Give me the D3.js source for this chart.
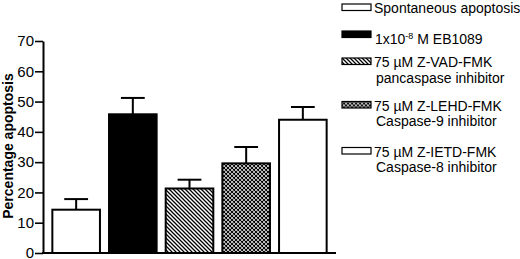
<!DOCTYPE html>
<html>
<head>
<meta charset="utf-8">
<script src="https://cdn.jsdelivr.net/npm/d3@7"></script>
<style>
  body { margin: 0; background: #fff; }
  text { font-family: "Liberation Sans", Arial, sans-serif; }
</style>
</head>
<body>
<div id="chart"></div>
<script>
let width = 520,
    height = 259;

// data
let groups = ["spont", "eb1089", "zvad", "zlehd", "zietd"];
let values = [14.3, 45.8, 21.3, 29.6, 44.0];
let errors = [3.5, 5.4, 2.9, 5.4, 4.2];
let fills = ["white", "black", "url(#diag)", "url(#cross)", "white"];
let legendLines = [
  ["Spontaneous apoptosis"],
  ["1x10", "-8", " M EB1089"],
  ["75 \u00b5M Z-VAD-FMK", "pancaspase inhibitor"],
  ["75 \u00b5M Z-LEHD-FMK", "Caspase-9 inhibitor"],
  ["75 \u00b5M Z-IETD-FMK", "Caspase-8 inhibitor"]
];
let yTicks = [0, 10, 20, 30, 40, 50, 60, 70];

let svg = d3.select("#chart")
  .append("svg")
  .attr("width", width)
  .attr("height", height);

// patterns
let defs = svg.append("defs");
defs.append("pattern")
  .attr("id", "diag")
  .attr("patternUnits", "userSpaceOnUse")
  .attr("width", 4).attr("height", 4)
  .append("path")
  .attr("d", "M0,0 L4,4 M-1,3 L1,5 M3,-1 L5,1")
  .attr("stroke", "black")
  .attr("stroke-width", 1.3);

let cross = defs.append("pattern")
  .attr("id", "cross")
  .attr("patternUnits", "userSpaceOnUse")
  .attr("width", 4).attr("height", 4);
cross.append("rect").attr("width", 4).attr("height", 4).attr("fill", "white");
cross.append("path")
  .attr("d", "M0,0 L4,4 M-1,3 L1,5 M3,-1 L5,1 M0,4 L4,0 M-1,1 L1,-1 M3,5 L5,3")
  .attr("stroke", "black")
  .attr("stroke-width", 1.1);

// scales
let x = d3.scaleBand()
  .domain(groups)
  .range([43, 336])
  .paddingInner(0.16)
  .paddingOuter(0.165);

let y = d3.scaleLinear()
  .domain([0, 70])
  .range([253, 41]);

// axes
let yAxis = svg.append("g")
  .attr("transform", "translate(43,0)")
  .call(d3.axisLeft(y).tickValues(yTicks).tickSize(8).tickPadding(1).tickSizeOuter(0));
yAxis.select(".domain").attr("stroke-width", 2);
yAxis.selectAll(".tick line").attr("stroke-width", 1.6);
yAxis.selectAll(".tick text")
  .style("font-size", "15px")
  .style("font-family", "Liberation Sans, Arial, sans-serif")
  .attr("fill", "black");

svg.append("text")
  .attr("transform", "translate(13,146) rotate(-90)")
  .style("text-anchor", "middle")
  .style("font-size", "14px")
  .style("font-weight", "bold")
  .text("Percentage apoptosis");

// bars
let data = groups.map((g, i) => ({ g: g, v: values[i], e: errors[i], f: fills[i] }));

svg.selectAll(".bar")
  .data(data)
  .enter().append("rect")
  .attr("class", "bar")
  .attr("x", d => x(d.g))
  .attr("y", d => y(d.v))
  .attr("width", x.bandwidth())
  .attr("height", d => y(0) - y(d.v))
  .attr("fill", d => d.f)
  .attr("stroke", "black")
  .attr("stroke-width", 2);

// error bars (upper only)
let err = svg.selectAll(".err")
  .data(data)
  .enter().append("g")
  .attr("class", "err");
err.append("line")
  .attr("x1", d => x(d.g) + x.bandwidth() / 2)
  .attr("x2", d => x(d.g) + x.bandwidth() / 2)
  .attr("y1", d => y(d.v))
  .attr("y2", d => y(d.v + d.e))
  .attr("stroke", "black")
  .attr("stroke-width", 2);
err.append("line")
  .attr("x1", d => x(d.g) + x.bandwidth() / 4)
  .attr("x2", d => x(d.g) + x.bandwidth() * 3 / 4)
  .attr("y1", d => y(d.v + d.e))
  .attr("y2", d => y(d.v + d.e))
  .attr("stroke", "black")
  .attr("stroke-width", 2);

// x axis line
svg.append("line")
  .attr("x1", 42).attr("x2", 336)
  .attr("y1", y(0)).attr("y2", y(0))
  .attr("stroke", "black")
  .attr("stroke-width", 2);

// legend
let legendY = [4, 31, 58, 101.5, 147.5];
let legend = svg.selectAll(".leg")
  .data(legendLines)
  .enter().append("g")
  .attr("class", "leg")
  .attr("transform", (d, i) => `translate(342,${legendY[i]})`);

legend.append("rect")
  .attr("width", 29)
  .attr("height", 6.5)
  .attr("fill", (d, i) => fills[i])
  .attr("stroke", "black")
  .attr("stroke-width", 1.2);

legend.each(function(d, i) {
  let g = d3.select(this);
  if (i === 1) {
    let t = g.append("text")
      .attr("x", 33).attr("y", 12.5)
      .style("font-size", "14px");
    t.append("tspan").text(d[0]);
    t.append("tspan").attr("dy", -5).style("font-size", "9px").text(d[1]);
    t.append("tspan").attr("dy", 5).text(d[2]);
  } else {
    d.forEach((line, j) => {
      g.append("text")
        .attr("x", j === 0 ? 32 : 34)
        .attr("y", 9 + j * 15.5)
        .style("font-size", "14px")
        .text(line);
    });
  }
});
</script>
</body>
</html>
